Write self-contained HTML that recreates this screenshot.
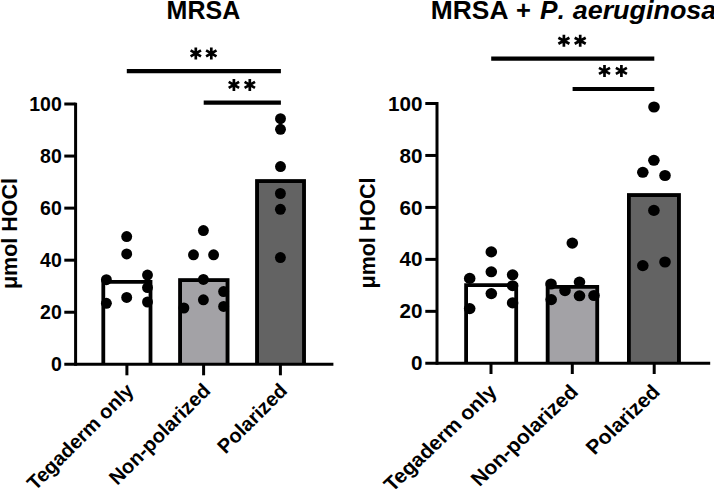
<!DOCTYPE html>
<html><head><meta charset="utf-8"><style>
html,body{margin:0;padding:0;background:#fff;width:714px;height:489px;overflow:hidden}
svg{display:block}
text{font-family:"Liberation Sans",sans-serif;font-weight:bold;fill:#000}
.num{font-size:19.5px;text-anchor:end}
.title{font-size:25px}
.it{font-style:italic}
.ylab{font-size:21.5px;text-anchor:middle}
.xlab{font-size:20px;text-anchor:end}
</style></head><body>
<svg width="714" height="489" viewBox="0 0 714 489">
<rect width="714" height="489" fill="#fff"/>
<rect x="101.40" y="280.00" width="51.00" height="84.30" fill="#ffffff"/>
<path d="M103.30 364.30V281.90H150.50V364.30" fill="none" stroke="#000" stroke-width="3.8"/>
<rect x="178.20" y="278.30" width="51.20" height="86.00" fill="#a3a2a6"/>
<path d="M180.10 364.30V280.20H227.50V364.30" fill="none" stroke="#000" stroke-width="3.8"/>
<rect x="255.20" y="179.20" width="50.70" height="185.10" fill="#636363"/>
<path d="M257.10 364.30V181.10H304.00V364.30" fill="none" stroke="#000" stroke-width="3.8"/>
<path d="M75.60 102.80V365.80" stroke="#000" stroke-width="3.0" fill="none"/>
<path d="M64.30 364.30H333.40" stroke="#000" stroke-width="3.0" fill="none"/>
<text transform="translate(61.80 371.40) scale(1.0 1)" class="num">0</text>
<path d="M64.30 312.24H75.60" stroke="#000" stroke-width="3.0"/>
<text transform="translate(61.80 319.34) scale(1.0 1)" class="num">20</text>
<path d="M64.30 260.18H75.60" stroke="#000" stroke-width="3.0"/>
<text transform="translate(61.80 267.28) scale(1.0 1)" class="num">40</text>
<path d="M64.30 208.12H75.60" stroke="#000" stroke-width="3.0"/>
<text transform="translate(61.80 215.22) scale(1.0 1)" class="num">60</text>
<path d="M64.30 156.06H75.60" stroke="#000" stroke-width="3.0"/>
<text transform="translate(61.80 163.16) scale(1.0 1)" class="num">80</text>
<path d="M64.30 104.00H75.60" stroke="#000" stroke-width="3.0"/>
<text transform="translate(61.80 111.10) scale(1.0 1)" class="num">100</text>
<path d="M126.90 364.30V375.30" stroke="#000" stroke-width="3.0"/>
<path d="M203.60 364.30V375.30" stroke="#000" stroke-width="3.0"/>
<path d="M280.40 364.30V375.30" stroke="#000" stroke-width="3.0"/>
<ellipse cx="126.70" cy="236.60" rx="5.45" ry="5.5"/>
<ellipse cx="126.70" cy="253.90" rx="5.45" ry="5.5"/>
<ellipse cx="106.40" cy="279.70" rx="5.45" ry="5.5"/>
<ellipse cx="147.50" cy="275.10" rx="5.45" ry="5.5"/>
<ellipse cx="147.50" cy="287.60" rx="5.45" ry="5.5"/>
<ellipse cx="126.70" cy="297.40" rx="5.45" ry="5.5"/>
<ellipse cx="106.40" cy="303.30" rx="5.45" ry="5.5"/>
<ellipse cx="147.50" cy="302.00" rx="5.45" ry="5.5"/>
<ellipse cx="203.40" cy="230.60" rx="5.45" ry="5.5"/>
<ellipse cx="193.50" cy="254.80" rx="5.45" ry="5.5"/>
<ellipse cx="213.60" cy="254.80" rx="5.45" ry="5.5"/>
<ellipse cx="203.40" cy="279.40" rx="5.45" ry="5.5"/>
<ellipse cx="203.40" cy="299.80" rx="5.45" ry="5.5"/>
<ellipse cx="223.60" cy="291.60" rx="5.45" ry="5.5"/>
<ellipse cx="183.90" cy="308.00" rx="5.45" ry="5.5"/>
<ellipse cx="223.60" cy="306.40" rx="5.45" ry="5.5"/>
<ellipse cx="280.50" cy="118.70" rx="5.45" ry="5.5"/>
<ellipse cx="280.50" cy="129.30" rx="5.45" ry="5.5"/>
<ellipse cx="280.50" cy="166.60" rx="5.45" ry="5.5"/>
<ellipse cx="280.40" cy="193.50" rx="5.45" ry="5.5"/>
<ellipse cx="280.40" cy="209.30" rx="5.45" ry="5.5"/>
<ellipse cx="280.40" cy="257.60" rx="5.45" ry="5.5"/>
<path d="M126.80 71.20H280.90" stroke="#000" stroke-width="4.2"/>
<path d="M203.70 102.60H280.90" stroke="#000" stroke-width="4.2"/>
<path d="M195.80 47.40V59.40M190.60 50.40L201.00 56.40M190.60 56.40L201.00 50.40" stroke="#000" stroke-width="2.7" fill="none"/>
<path d="M211.30 47.40V59.40M206.10 50.40L216.50 56.40M206.10 56.40L216.50 50.40" stroke="#000" stroke-width="2.7" fill="none"/>
<path d="M233.90 78.90V90.90M228.70 81.90L239.10 87.90M228.70 87.90L239.10 81.90" stroke="#000" stroke-width="2.7" fill="none"/>
<path d="M249.80 78.90V90.90M244.60 81.90L255.00 87.90M244.60 87.90L255.00 81.90" stroke="#000" stroke-width="2.7" fill="none"/>
<text transform="translate(16.60 233.50) scale(1.0 1) rotate(-90)" class="ylab">&#956;mol HOCl</text>
<text transform="translate(134.90 391.80) scale(1.0 1) rotate(-45)" class="xlab">Tegaderm only</text>
<text transform="translate(211.60 391.80) scale(1.0 1) rotate(-45)" class="xlab">Non-polarized</text>
<text transform="translate(288.40 391.80) scale(1.0 1) rotate(-45)" class="xlab">Polarized</text>
<rect x="464.20" y="283.30" width="53.90" height="80.00" fill="#ffffff"/>
<path d="M466.10 363.30V285.20H516.20V363.30" fill="none" stroke="#000" stroke-width="3.8"/>
<rect x="545.80" y="285.00" width="53.30" height="78.30" fill="#a3a2a6"/>
<path d="M547.70 363.30V286.90H597.20V363.30" fill="none" stroke="#000" stroke-width="3.8"/>
<rect x="627.00" y="193.20" width="53.80" height="170.10" fill="#636363"/>
<path d="M628.90 363.30V195.10H678.90V363.30" fill="none" stroke="#000" stroke-width="3.8"/>
<path d="M437.00 102.10V364.80" stroke="#000" stroke-width="3.0" fill="none"/>
<path d="M425.30 363.30H710.20" stroke="#000" stroke-width="3.0" fill="none"/>
<text transform="translate(422.50 370.40) scale(1.06 1)" class="num">0</text>
<path d="M425.30 311.34H437.00" stroke="#000" stroke-width="3.0"/>
<text transform="translate(422.50 318.44) scale(1.06 1)" class="num">20</text>
<path d="M425.30 259.38H437.00" stroke="#000" stroke-width="3.0"/>
<text transform="translate(422.50 266.48) scale(1.06 1)" class="num">40</text>
<path d="M425.30 207.42H437.00" stroke="#000" stroke-width="3.0"/>
<text transform="translate(422.50 214.52) scale(1.06 1)" class="num">60</text>
<path d="M425.30 155.46H437.00" stroke="#000" stroke-width="3.0"/>
<text transform="translate(422.50 162.56) scale(1.06 1)" class="num">80</text>
<path d="M425.30 103.50H437.00" stroke="#000" stroke-width="3.0"/>
<text transform="translate(422.50 110.60) scale(1.06 1)" class="num">100</text>
<path d="M491.00 363.30V374.00" stroke="#000" stroke-width="3.0"/>
<path d="M572.30 363.30V374.00" stroke="#000" stroke-width="3.0"/>
<path d="M654.20 363.30V374.00" stroke="#000" stroke-width="3.0"/>
<ellipse cx="491.30" cy="251.90" rx="5.8" ry="5.55"/>
<ellipse cx="491.30" cy="271.80" rx="5.8" ry="5.55"/>
<ellipse cx="469.70" cy="278.40" rx="5.8" ry="5.55"/>
<ellipse cx="512.60" cy="274.80" rx="5.8" ry="5.55"/>
<ellipse cx="512.60" cy="285.70" rx="5.8" ry="5.55"/>
<ellipse cx="491.30" cy="293.60" rx="5.8" ry="5.55"/>
<ellipse cx="512.60" cy="302.90" rx="5.8" ry="5.55"/>
<ellipse cx="469.70" cy="308.60" rx="5.8" ry="5.55"/>
<ellipse cx="572.30" cy="243.10" rx="5.8" ry="5.55"/>
<ellipse cx="551.00" cy="284.00" rx="5.8" ry="5.55"/>
<ellipse cx="579.50" cy="282.10" rx="5.8" ry="5.55"/>
<ellipse cx="565.00" cy="290.60" rx="5.8" ry="5.55"/>
<ellipse cx="551.20" cy="299.60" rx="5.8" ry="5.55"/>
<ellipse cx="579.50" cy="295.80" rx="5.8" ry="5.55"/>
<ellipse cx="594.00" cy="295.50" rx="5.8" ry="5.55"/>
<ellipse cx="654.00" cy="107.00" rx="5.8" ry="5.55"/>
<ellipse cx="653.90" cy="160.30" rx="5.8" ry="5.55"/>
<ellipse cx="642.80" cy="172.30" rx="5.8" ry="5.55"/>
<ellipse cx="665.00" cy="175.50" rx="5.8" ry="5.55"/>
<ellipse cx="653.90" cy="210.40" rx="5.8" ry="5.55"/>
<ellipse cx="642.80" cy="265.60" rx="5.8" ry="5.55"/>
<ellipse cx="665.00" cy="262.00" rx="5.8" ry="5.55"/>
<path d="M491.20 58.60H654.30" stroke="#000" stroke-width="4.2"/>
<path d="M572.60 89.00H654.30" stroke="#000" stroke-width="4.2"/>
<path d="M563.90 34.80V46.80M558.39 37.80L569.41 43.80M558.39 43.80L569.41 37.80" stroke="#000" stroke-width="2.7" fill="none"/>
<path d="M580.20 34.80V46.80M574.69 37.80L585.71 43.80M574.69 43.80L585.71 37.80" stroke="#000" stroke-width="2.7" fill="none"/>
<path d="M604.50 64.90V76.90M598.99 67.90L610.01 73.90M598.99 73.90L610.01 67.90" stroke="#000" stroke-width="2.7" fill="none"/>
<path d="M621.40 64.90V76.90M615.89 67.90L626.91 73.90M615.89 73.90L626.91 67.90" stroke="#000" stroke-width="2.7" fill="none"/>
<text transform="translate(374.60 233.00) scale(1.06 1) rotate(-90)" class="ylab">&#956;mol HOCl</text>
<text transform="translate(498.00 393.00) scale(1.06 1) rotate(-45)" class="xlab">Tegaderm only</text>
<text transform="translate(579.30 393.00) scale(1.06 1) rotate(-45)" class="xlab">Non-polarized</text>
<text transform="translate(661.20 393.00) scale(1.06 1) rotate(-45)" class="xlab">Polarized</text>
<text x="166.6" y="19" class="title">MRSA</text>
<text transform="translate(430.8 19) scale(1.055 1)" class="title">MRSA</text>
<text transform="translate(516.0 19) scale(1.02 1)" class="title">+</text>
<text transform="translate(540.0 19) scale(1.05 1)" class="title it">P</text>
<text transform="translate(557.8 19) scale(1.0 1)" class="title it">.</text>
<text transform="translate(572.7 19) scale(1.077 1)" class="title it">aeruginosa</text>
</svg>
</body></html>
